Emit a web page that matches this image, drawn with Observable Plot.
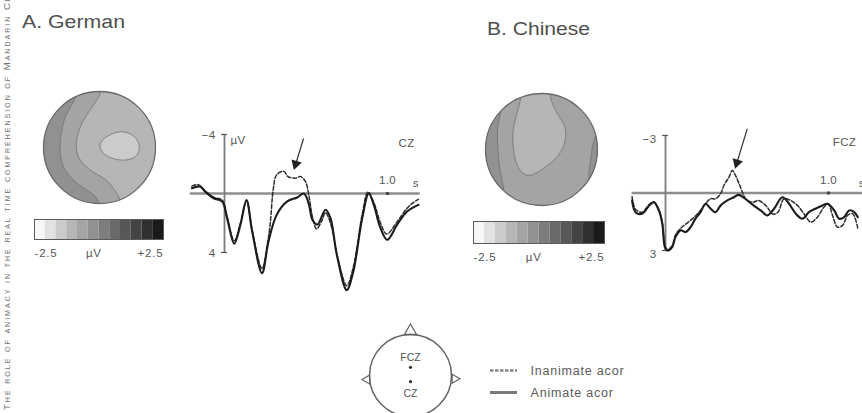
<!DOCTYPE html>
<html>
<head>
<meta charset="utf-8">
<script src="https://cdn.jsdelivr.net/npm/d3@7"></script>
<script src="https://cdn.jsdelivr.net/npm/@observablehq/plot@0.6"></script>
<style>
  body { margin: 0; background: #fff; }
  #fig { position: relative; width: 862px; height: 413px; overflow: hidden; background: #fff;
         font-family: "Liberation Sans", Arial, Helvetica, sans-serif; }
</style>
</head>
<body>
<div id="fig">
  <svg id="overlay" width="862" height="413" style="position:absolute;left:0;top:0">
    <text x="22" y="28" font-size="18" fill="#505050" textLength="103" lengthAdjust="spacingAndGlyphs">A. German</text>
    <text x="487" y="34.5" font-size="18" fill="#505050" textLength="103" lengthAdjust="spacingAndGlyphs">B. Chinese</text>
    <text transform="translate(9.5,410) rotate(-90)" font-size="9.5" fill="#707070" style="font-variant:small-caps" textLength="445" lengthAdjust="spacing">The role of animacy in the real time comprehension of Mandarin Chinese</text>
  </svg>
</div>
<script>
// ---------------- data ----------------
// colour-scale bins (µV) and the 12 grey steps of the scale bar
const scaleEdges = [-2.5, -2.083, -1.667, -1.25, -0.833, -0.417, 0, 0.417, 0.833, 1.25, 1.667, 2.083, 2.5];
const scaleGreys = ["#f7f7f7", "#e2e2e2", "#cbcbcb", "#b6b6b6", "#a4a4a4", "#919191",
                    "#7d7d7d", "#6a6a6a", "#575757", "#444444", "#303030", "#1a1a1a"];
const scaleLabels = ["-2.5", "µV", "+2.5"];

// scalp map samples (µV) on a 7x7 grid, rows top→bottom, columns left→right
const gridX = [-1, -0.667, -0.333, 0, 0.333, 0.667, 1];
const gridY = [1, 0.667, 0.333, 0, -0.333, -0.667, -1];
const topoGerman = [
  [0.4, 0.0, -0.45, -0.8, -0.95, -0.95, -0.95],
  [0.25, -0.3, -0.7, -1.0, -1.1, -1.1, -1.0],
  [0.1, -0.45, -0.9, -1.1, -1.2, -1.15, -1.0],
  [0.05, -0.5, -1.0, -1.35, -1.55, -1.35, -1.0],
  [0.1, -0.45, -0.8, -1.05, -1.15, -1.2, -1.0],
  [0.3, -0.15, -0.45, -0.65, -0.95, -1.05, -1.0],
  [0.3, 0.1, -0.1, -0.3, -0.8, -1.0, -1.0]
];
const topoChinese = [
  [0.1, -0.3, -0.95, -0.95, -0.65, -0.55, -0.4],
  [0.05, -0.55, -1.0, -1.05, -0.75, -0.6, -0.4],
  [0.0, -0.7, -1.05, -1.1, -0.95, -0.65, -0.35],
  [0.05, -0.65, -1.05, -1.05, -0.9, -0.6, -0.3],
  [0.05, -0.6, -0.95, -0.85, -0.7, -0.55, -0.3],
  [0.05, -0.45, -0.75, -0.7, -0.6, -0.5, -0.35],
  [0.05, -0.45, -0.6, -0.6, -0.55, -0.5, -0.4]
];

// ERP waveforms: time (s) and amplitude (µV, negative up)
const gerAnimT = [-0.20,-0.15,-0.12,-0.066,-0.014,0.016,0.06,0.098,0.135,0.17,0.23,0.27,0.32,0.385,0.446,0.487,0.517,0.54,0.57,0.62,0.65,0.69,0.75,0.79,0.845,0.885,0.916,0.957,0.998,1.06,1.12,1.19];
const gerAnimV = [-0.36,-0.47,-0.14,0.32,0.54,1.67,3.4,2.1,0.45,2.58,5.4,3.25,1.45,0.54,0.27,0.0,0.7,1.8,2.1,1.1,1.67,4.2,6.55,5.3,1.67,0.0,0.77,2.35,3.14,2.1,1.22,0.77];
const gerInanT = [-0.20,-0.16,-0.12,-0.066,-0.014,0.016,0.06,0.098,0.135,0.17,0.23,0.262,0.28,0.30,0.32,0.364,0.39,0.435,0.466,0.497,0.517,0.54,0.565,0.595,0.62,0.65,0.70,0.75,0.79,0.845,0.88,0.916,0.957,0.995,1.06,1.12,1.16,1.19];
const gerInanV = [-0.5,-0.6,-0.2,0.25,0.45,1.6,3.2,2.0,0.5,2.5,5.1,3.5,2.1,-0.36,-1.27,-1.5,-1.15,-1.04,-1.15,-0.8,0.1,1.6,2.4,1.9,1.3,2.0,4.6,6.25,5.0,1.4,-0.1,0.6,2.0,2.75,1.9,1.0,0.6,0.4];

const chnAnimT = [-0.205,-0.184,-0.143,-0.10,-0.072,-0.041,-0.02,-0.004,0.01,0.041,0.061,0.092,0.123,0.154,0.184,0.215,0.246,0.277,0.307,0.338,0.379,0.42,0.45,0.49,0.54,0.584,0.625,0.666,0.717,0.758,0.80,0.84,0.88,0.92,0.963,0.994,1.035,1.065,1.096,1.127,1.158,1.18];
const chnAnimV = [0.39,1.0,1.08,0.65,0.48,0.91,1.6,2.82,3.0,2.82,2.3,1.95,2.04,1.78,1.34,1.0,0.56,0.82,1.0,0.65,0.39,0.22,0.1,0.3,0.65,0.91,1.17,0.82,0.22,0.56,1.08,1.34,1.0,0.82,0.65,0.56,0.91,1.34,1.26,0.91,1.0,1.26];
const chnInanT = [-0.205,-0.184,-0.143,-0.10,-0.072,-0.041,-0.02,-0.004,0.01,0.041,0.061,0.092,0.14,0.184,0.215,0.246,0.277,0.307,0.338,0.358,0.389,0.41,0.43,0.46,0.48,0.50,0.54,0.57,0.615,0.66,0.69,0.727,0.768,0.81,0.85,0.891,0.932,0.973,0.998,1.025,1.055,1.086,1.117,1.148,1.18];
const chnInanV = [0.2,0.85,1.0,0.6,0.45,0.85,1.5,2.7,2.95,2.75,2.2,1.85,1.52,1.2,0.9,0.56,0.3,0.3,0.04,-0.39,-0.82,-1.17,-0.91,-0.3,0.13,0.39,0.47,0.39,0.65,1.1,1.0,0.3,0.39,0.65,1.08,1.52,1.26,0.73,0.56,1.17,1.78,1.69,1.17,1.08,1.86];

// annotations
const gerTicks = [-4, 4], gerTickLabels = ["−4", "4"];
const chnTicks = [-3, 3], chnTickLabels = ["−3", "3"];
const markTime = [1];
const electrodeNames = ["FCZ", "CZ"];
const electrodeY = [0.2, -0.15];
const legendLabels = ["Inanimate acor", "Animate acor"];

// ---------------- drawing ----------------
const FONT = "'Liberation Sans', Arial, Helvetica, sans-serif";
const fig = document.getElementById("fig");
function place(el, left, top) {
  el.style.position = "absolute";
  el.style.left = left + "px";
  el.style.top = top + "px";
  fig.appendChild(el);
}
const greyScale = {type: "threshold", domain: scaleEdges.slice(1, 12), range: scaleGreys};

function topomap(grid, left, top, id) {
  const R = 56;
  const pts = grid.flatMap((row, i) => row.map((v, j) => ({x: gridX[j], y: gridY[i], v})));
  const svg = Plot.plot({
    width: 2 * R + 8, height: 2 * R + 8,
    marginTop: 4, marginRight: 4, marginBottom: 4, marginLeft: 4,
    x: {domain: [-1, 1], axis: null},
    y: {domain: [-1, 1], axis: null},
    color: greyScale,
    style: {background: "transparent", overflow: "visible"},
    marks: [
      Plot.contour(pts, {x: "x", y: "y", fill: "v", interpolate: "barycentric",
        thresholds: scaleEdges, x1: -1, y1: -1, x2: 1, y2: 1, blur: 3,
        stroke: "#707070", strokeWidth: 0.8}),
      Plot.dot([{x: 0, y: 0}], {x: "x", y: "y", r: R, stroke: "#6a6a6a", strokeWidth: 1.3, fill: "none"})
    ]
  });
  const cx = svg.scale("x").apply(0), cy = svg.scale("y").apply(0);
  const ns = "http://www.w3.org/2000/svg";
  const defs = document.createElementNS(ns, "defs");
  const cp = document.createElementNS(ns, "clipPath");
  cp.setAttribute("id", id);
  const c = document.createElementNS(ns, "circle");
  c.setAttribute("cx", cx); c.setAttribute("cy", cy); c.setAttribute("r", R);
  cp.appendChild(c); defs.appendChild(cp);
  svg.insertBefore(defs, svg.firstChild);
  const g = svg.querySelector('g[aria-label="contour"]');
  if (g) g.setAttribute("clip-path", `url(#${id})`);
  place(svg, left, top);
}

function colorbar(left, top, barWidth, barHeight) {
  const cells = scaleGreys.map((c, k) => ({x1: scaleEdges[k], x2: scaleEdges[k + 1]}));
  const txt = {frameAnchor: "bottom", lineAnchor: "middle", dy: 14, fill: "#555", fontSize: 11.5};
  const svg = Plot.plot({
    width: barWidth + 8, height: barHeight + 26,
    marginTop: 4, marginRight: 4, marginBottom: 22, marginLeft: 4,
    x: {domain: [-2.5, 2.5], axis: null},
    y: {domain: [0, 1], axis: null},
    color: greyScale,
    style: {background: "transparent", overflow: "visible", fontFamily: FONT, letterSpacing: "0.8px"},
    marks: [
      Plot.rect(cells, {x1: "x1", x2: "x2", y1: 0, y2: 1, fill: "x1"}),
      Plot.frame({stroke: "#5a5a5a", strokeWidth: 1}),
      Plot.text([scaleLabels[0]], {...txt, x: -2.5, text: d => d, textAnchor: "start"}),
      Plot.text([scaleLabels[1]], {...txt, x: -0.2, text: d => d, textAnchor: "middle"}),
      Plot.text([scaleLabels[2]], {...txt, x: 2.5, text: d => d, textAnchor: "end"})
    ]
  });
  place(svg, left, top);
}

function erpPanel(o) {
  const marks = [
    Plot.ruleY([0], {x1: o.xStart, x2: o.xEnd, stroke: "#8e8e8e", strokeWidth: 2.6}),
    Plot.ruleX([0], {y1: o.ticks[0], y2: o.ticks[1], stroke: "#7c7c7c", strokeWidth: 1.8}),
    Plot.ruleY(o.ticks, {y: d => d, x1: 0, x2: 0, insetLeft: -3, insetRight: -3, stroke: "#555", strokeWidth: 1.2}),
    Plot.text(o.ticks, {x: 0, y: d => d, text: (d, i) => o.tickLabels[i], dx: -9, dy: o.tickDy, textAnchor: "end", fill: "#555"}),
    Plot.dot(markTime, {x: d => d, y: 0, r: 1.7, fill: "#444"}),
    Plot.text(markTime, {x: d => d, y: 0, text: d => d.toFixed(1), dy: -13, fill: "#555"}),
    Plot.text(["s"], {x: o.sX, y: 0, text: d => d, dy: -10, textAnchor: "start", fill: "#555"}),
    Plot.text([o.site], {x: o.siteX, y: o.ticks[0], text: d => d, dy: o.siteDy, textAnchor: "start", fill: "#555"}),
    Plot.line(o.inanV, {x: o.inanT, y: o.inanV, curve: "catmull-rom", stroke: "#2e2e2e", strokeWidth: 1.5, strokeDasharray: "4,2"}),
    Plot.line(o.animV, {x: o.animT, y: o.animV, curve: "catmull-rom", stroke: "#1c1c1c", strokeWidth: 2.1}),
    Plot.link([o.arrow], {x1: "x1", y1: "y1", x2: "x2", y2: "y2", stroke: "#333", strokeWidth: 1.2}),
    Plot.dot([o.arrow], {x: "x2", y: "y2", symbol: "triangle", r: 4, rotate: o.arrow.rotate, fill: "#222", stroke: "none"})
  ];
  if (o.unit) marks.push(Plot.text([o.unit], {x: 0, y: o.ticks[0], text: d => d, dx: 6, dy: 6, textAnchor: "start", fill: "#555"}));
  const svg = Plot.plot({
    width: o.width, height: o.height,
    x: {domain: [0, 1], range: o.xRange, axis: null},
    y: {domain: o.ticks, range: o.yRange, axis: null},
    style: {background: "transparent", overflow: "visible", fontFamily: FONT, fontSize: "11.5px", letterSpacing: "0.4px"},
    marks
  });
  place(svg, o.left, o.top);
}

// A. German
topomap(topoGerman, 39, 87, "clipGer");
colorbar(30, 215, 129, 20);
erpPanel({
  left: 180, top: 100, width: 250, height: 200,
  xRange: [44, 207], yRange: [34, 152], ticks: gerTicks, tickLabels: gerTickLabels, tickDy: 1,
  xStart: -0.21, xEnd: 1.2, sX: 1.155, site: "CZ", siteX: 1.067, siteDy: 9, unit: "µV",
  animT: gerAnimT, animV: gerAnimV, inanT: gerInanT, inanV: gerInanV,
  arrow: {x1: 0.485, y1: -3.73, x2: 0.437, y2: -2.0, rotate: 197}
});

// B. Chinese
topomap(topoChinese, 481, 89, "clipChn");
colorbar(469, 217, 131, 22);
erpPanel({
  left: 620, top: 100, width: 242, height: 200,
  xRange: [45, 208], yRange: [35, 150], ticks: chnTicks, tickLabels: chnTickLabels, tickDy: 4,
  xStart: -0.205, xEnd: 1.3, sX: 1.185, site: "FCZ", siteX: 1.026, siteDy: 7, unit: null,
  animT: chnAnimT, animV: chnAnimV, inanT: chnInanT, inanV: chnInanV,
  arrow: {x1: 0.502, y1: -3.36, x2: 0.438, y2: -1.58, rotate: 197}
});

// electrode head diagram
{
  const electrodes = electrodeNames.map((name, i) => ({name, x: 0, y: electrodeY[i]}));
  const ears = [{x: -1.06, y: -0.1, rot: 270}, {x: 1.08, y: -0.08, rot: 90}];
  const svg = Plot.plot({
    width: 110, height: 95,
    x: {domain: [-1, 1], range: [14, 96], axis: null},
    y: {domain: [-1, 1], range: [98, 16], axis: null},
    style: {background: "transparent", overflow: "visible", fontFamily: FONT, fontSize: "10.5px"},
    marks: [
      Plot.dot([{x: 0, y: 1.085}], {x: "x", y: "y", symbol: "triangle", r: 4.5, fill: "white", stroke: "#666", strokeWidth: 1.3}),
      Plot.dot(ears, {x: "x", y: "y", symbol: "triangle", r: 3.3, rotate: "rot", fill: "white", stroke: "#666", strokeWidth: 1.2}),
      Plot.dot([{x: 0, y: 0}], {x: "x", y: "y", r: 41, fill: "none", stroke: "#666", strokeWidth: 1.5}),
      Plot.dot(electrodes, {x: "x", y: "y", r: 1.6, fill: "#333"}),
      Plot.text(electrodes.slice(0, 1), {x: "x", y: "y", text: "name", dy: -10, fill: "#555"}),
      Plot.text(electrodes.slice(1), {x: "x", y: "y", text: "name", dy: 12, fill: "#555"})
    ]
  });
  place(svg, 355, 318);
}

// legend
{
  const svg = Plot.plot({
    width: 170, height: 50,
    x: {domain: [0, 1], range: [7, 34], axis: null},
    y: {type: "point", domain: legendLabels, range: [15, 37], padding: 0, axis: null},
    style: {background: "transparent", overflow: "visible", fontFamily: FONT, fontSize: "12.5px", letterSpacing: "0.8px"},
    marks: [
      Plot.ruleY(legendLabels.slice(0, 1), {y: d => d, x1: 0, x2: 1, stroke: "#858585", strokeWidth: 2.6, strokeDasharray: "3.5,1.5"}),
      Plot.ruleY(legendLabels.slice(1), {y: d => d, x1: 0, x2: 1, stroke: "#7a7a7a", strokeWidth: 3}),
      Plot.text(legendLabels, {x: 1, y: d => d, text: d => d, dx: 13, textAnchor: "start", fill: "#5a5a5a"})
    ]
  });
  place(svg, 483, 355);
}
</script>
</body>
</html>
